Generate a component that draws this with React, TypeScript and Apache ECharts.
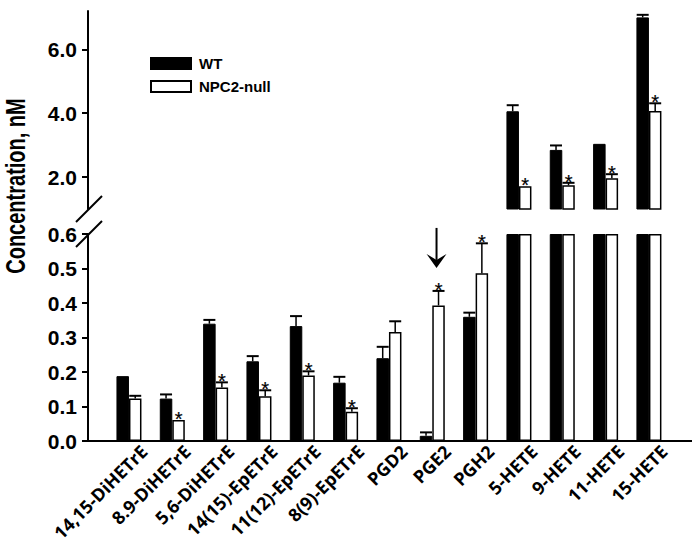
import React, { useEffect, useRef } from 'react';
import * as echarts from 'echarts';

const categories = [
  '14,15-DiHETrE', '8.9-DiHETrE', '5,6-DiHETrE', '14(15)-EpETrE', '11(12)-EpETrE',
  '8(9)-EpETrE', 'PGD2', 'PGE2', 'PGH2', '5-HETE', '9-HETE', '11-HETE', '15-HETE',
];
const wtMean = [0.188, 0.123, 0.340, 0.231, 0.333, 0.169, 0.240, 0.015, 0.360, 4.06, 2.85, 3.04, 7.0];
const wtErr = [0.0, 0.012, 0.011, 0.015, 0.029, 0.017, 0.033, 0.010, 0.012, 0.19, 0.14, 0.0, 0.08];
const npcMean = [0.123, 0.061, 0.155, 0.130, 0.190, 0.085, 0.316, 0.393, 0.486, 1.71, 1.74, 1.96, 4.07];
const npcErr = [0.008, 0.0, 0.015, 0.017, 0.012, 0.010, 0.031, 0.042, 0.087, 0.0, 0.08, 0.13, 0.24];
const npcSig = [false, true, true, true, true, true, false, true, true, true, true, true, true];
const wtSig = categories.map(() => false);
const arrowCategories = ['PGE2'];

const lowerMax = 0.6;
const lowerInterval = 0.1;
const upperMin = 1.0;
const upperMax = 7.2;
const upperTicks = [2, 4, 6];

const BAR_W = 12.5;
const CAP = 12;
const FONT = 'Liberation Sans';

const isBroken = (i: number) => Math.max(wtMean[i], npcMean[i]) > lowerMax;

function errData(means: number[], errs: number[], sig: boolean[], upper: boolean) {
  const out: any[] = [];
  categories.forEach((_, i) => {
    if (isBroken(i) === upper) out.push([i, means[i], errs[i], sig[i] ? 1 : 0]);
  });
  return out;
}

const errRender = (side: number) => (_params: any, api: any) => {
  const i = api.value(0);
  const m = api.value(1);
  const e = api.value(2);
  const s = api.value(3);
  const p0 = api.coord([i, m]);
  const p1 = api.coord([i, m + e]);
  const x = p0[0] + (side * BAR_W) / 2;
  const children: any[] = [];
  if (e > 0) {
    children.push({ type: 'line', shape: { x1: x, y1: p0[1], x2: x, y2: p1[1] }, style: { stroke: '#000', lineWidth: 1.5 } });
    children.push({ type: 'line', shape: { x1: x - CAP / 2, y1: p1[1], x2: x + CAP / 2, y2: p1[1] }, style: { stroke: '#000', lineWidth: 2 } });
  }
  if (s) {
    children.push({
      type: 'text', x, y: p1[1] - 1,
      style: { text: '*', fontSize: 20, fontFamily: FONT, fill: '#000', textFill: '#000', stroke: '#000', lineWidth: 0.2, align: 'center', verticalAlign: 'middle' },
    });
  }
  return { type: 'group', children };
};

const arrowRender = (_params: any, api: any) => {
  const i = api.value(0);
  const v = api.value(1);
  const p = api.coord([i, v]);
  const x = p[0] + BAR_W / 2 - 2;
  const tip = p[1] - 23;
  return {
    type: 'group',
    children: [
      { type: 'line', shape: { x1: x, y1: tip - 40, x2: x, y2: tip - 8 }, style: { stroke: '#000', lineWidth: 2 } },
      { type: 'polygon', shape: { points: [[x - 10, tip - 14], [x, tip - 8], [x + 10, tip - 14], [x, tip]] }, style: { fill: '#000' } },
    ],
  };
};

export default function App() {
  const ref = useRef<HTMLDivElement>(null);
  useEffect(() => {
    if (!ref.current) return;
    const chart = echarts.init(ref.current, undefined, { renderer: 'svg' });
    const gridLeft = 107.3;
    const gridRight = 22.4;
    const labelShift = 15;
    const yAxisCommon = {
      offset: 19.3,
      axisLine: { show: true, lineStyle: { color: '#000', width: 2 } },
      axisTick: { show: true, inside: false, length: 6, lineStyle: { color: '#000', width: 2 } },
      splitLine: { show: false },
    };
    const labelCommon = {
      color: '#000', fontSize: 21, fontWeight: 'bold', fontFamily: FONT, margin: 11,
      formatter: (v: number) => v.toFixed(1),
    };
    const arrowData = arrowCategories.map((c) => {
      const i = categories.indexOf(c);
      return [i, npcMean[i] + npcErr[i]];
    });
    chart.setOption({
      animation: false,
      textStyle: { fontFamily: FONT },
      legend: {
        orient: 'vertical', left: 145, top: 51,
        itemWidth: 40, itemHeight: 11, itemGap: 8,
        icon: 'rect',
        data: ['WT', 'NPC2-null'],
        textStyle: { color: '#000', fontSize: 15, fontWeight: 'bold', fontFamily: FONT, padding: [0, 0, 0, 3] },
      },
      grid: [
        { left: gridLeft, right: gridRight, top: 234, bottom: 103 },
        { left: gridLeft, right: gridRight, top: 11, bottom: 335 },
        { left: gridLeft + labelShift, right: gridRight - labelShift, top: 234, bottom: 103 },
      ],
      xAxis: [
        { type: 'category', gridIndex: 0, data: categories, axisLine: { show: false }, axisTick: { show: false }, axisLabel: { show: false } },
        { type: 'category', gridIndex: 1, data: categories, show: false },
        {
          type: 'category', gridIndex: 2, data: categories,
          axisLine: { show: false }, axisTick: { show: false },
          axisLabel: { rotate: 45, interval: 0, margin: 22, color: '#000', fontSize: 18, fontWeight: 'bold', fontFamily: 'Open Sans' },
        },
      ],
      yAxis: [
        { type: 'value', gridIndex: 0, min: 0, max: lowerMax, interval: lowerInterval, ...yAxisCommon, axisLabel: labelCommon },
        {
          type: 'value', gridIndex: 1, min: upperMin, max: upperMax, ...yAxisCommon,
          axisTick: { ...yAxisCommon.axisTick, customValues: upperTicks },
          axisLabel: { ...labelCommon, customValues: upperTicks },
        },
        { type: 'value', gridIndex: 2, min: 0, max: 1, show: false },
      ],
      series: [
        {
          name: 'WT', type: 'bar', xAxisIndex: 0, yAxisIndex: 0, barWidth: BAR_W, barGap: '0%',
          data: wtMean.map((v) => Math.min(v, lowerMax)),
          itemStyle: { color: '#000', borderColor: '#000', borderWidth: 1 },
        },
        {
          name: 'NPC2-null', type: 'bar', xAxisIndex: 0, yAxisIndex: 0, barWidth: BAR_W, barGap: '0%',
          data: npcMean.map((v) => Math.min(v, lowerMax)),
          itemStyle: { color: '#fff', borderColor: '#000', borderWidth: 1.5 },
        },
        {
          name: 'WT', type: 'bar', xAxisIndex: 1, yAxisIndex: 1, barWidth: BAR_W, barGap: '0%',
          data: wtMean.map((v, i) => (isBroken(i) ? v : '-')),
          itemStyle: { color: '#000', borderColor: '#000', borderWidth: 1 },
        },
        {
          name: 'NPC2-null', type: 'bar', xAxisIndex: 1, yAxisIndex: 1, barWidth: BAR_W, barGap: '0%',
          data: npcMean.map((v, i) => (isBroken(i) ? v : '-')),
          itemStyle: { color: '#fff', borderColor: '#000', borderWidth: 1.5 },
        },
        { name: 'errWTlow', type: 'custom', xAxisIndex: 0, yAxisIndex: 0, z: 5, clip: false, renderItem: errRender(-1), encode: { x: 0, y: 1 }, data: errData(wtMean, wtErr, wtSig, false) },
        { name: 'errNPClow', type: 'custom', xAxisIndex: 0, yAxisIndex: 0, z: 5, clip: false, renderItem: errRender(1), encode: { x: 0, y: 1 }, data: errData(npcMean, npcErr, npcSig, false) },
        { name: 'errWTup', type: 'custom', xAxisIndex: 1, yAxisIndex: 1, z: 5, clip: false, renderItem: errRender(-1), encode: { x: 0, y: 1 }, data: errData(wtMean, wtErr, wtSig, true) },
        { name: 'errNPCup', type: 'custom', xAxisIndex: 1, yAxisIndex: 1, z: 5, clip: false, renderItem: errRender(1), encode: { x: 0, y: 1 }, data: errData(npcMean, npcErr, npcSig, true) },
        { name: 'arrow', type: 'custom', xAxisIndex: 0, yAxisIndex: 0, z: 5, clip: false, renderItem: arrowRender, encode: { x: 0, y: 1 }, data: arrowData },
      ],
      graphic: [
        { type: 'line', shape: { x1: 88, y1: 441, x2: 692, y2: 441 }, style: { stroke: '#000', lineWidth: 2 }, z: 10 },
        { type: 'line', shape: { x1: 76, y1: 222, x2: 102, y2: 196 }, style: { stroke: '#000', lineWidth: 2 } },
        { type: 'line', shape: { x1: 76, y1: 247, x2: 102, y2: 221 }, style: { stroke: '#000', lineWidth: 2 } },
        {
          type: 'text', x: 15, y: 186, rotation: Math.PI / 2, scaleY: 1.35,
          style: { text: 'Concentration, nM', fill: '#000', fontSize: 20, fontWeight: 'bold', fontFamily: FONT, align: 'center', verticalAlign: 'middle' },
        },
      ],
    });
    return () => chart.dispose();
  }, []);
  return <div ref={ref} style={{ position: 'fixed', left: 0, top: 0, width: 693, height: 544, background: '#fff' }} />;
}
